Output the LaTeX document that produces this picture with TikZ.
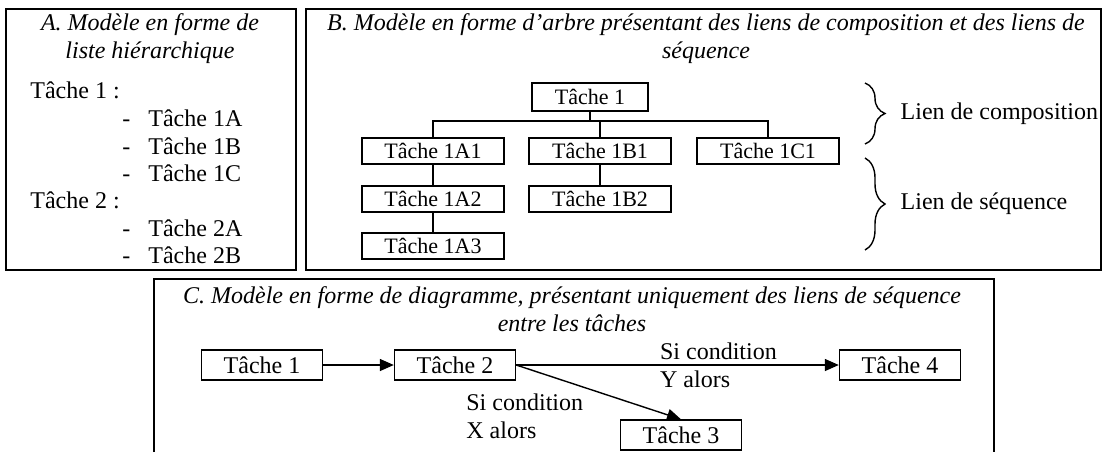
\documentclass[tikz,border=0pt]{standalone}
\usepackage{fontspec}
\setmainfont{Liberation Serif}
\usetikzlibrary{positioning, arrows.meta, decorations.pathreplacing}

\tikzset{
    cadre/.style={line width=0.8pt},
    titre/.style={align=center, inner sep=0pt, font=\fontsize{12}{14}\selectfont\itshape},
    texte/.style={align=left, inner sep=0pt, font=\fontsize{12}{14}\selectfont},
    tache/.style={draw, line width=0.7pt, inner sep=0pt, minimum width=71pt, minimum height=13pt, font=\fontsize{11}{13}\selectfont},
    etape/.style={draw, line width=0.7pt, inner sep=0pt, minimum width=60.5pt, minimum height=15pt, font=\fontsize{12}{14}\selectfont},
    fleche/.style={line width=0.7pt, -{Triangle[length=7pt, width=6pt]}},
    accolade/.style={decorate, decoration={brace, amplitude=10pt}, line width=0.7pt}
}

\begin{document}
\begin{tikzpicture}[x=0.5pt, y=-0.5pt]
        \useasboundingbox (0,0) rectangle (1106,452);

        % A : liste
        \draw[cadre] (6,9) rectangle (296,270);
        \node[titre] at (150,39) (titreA) {A. Modèle en forme de\\liste hiérarchique};
        \node[texte, anchor=west] at (30,90) (l1) {Tâche 1 :};
        \node[texte, anchor=west] at (122,118) (l1a) {-\hspace{9pt}Tâche 1A};
        \node[texte, anchor=west] at (122,146) (l1b) {-\hspace{9pt}Tâche 1B};
        \node[texte, anchor=west] at (122,173) (l1c) {-\hspace{9pt}Tâche 1C};
        \node[texte, anchor=west] at (30,200) (l2) {Tâche 2 :};
        \node[texte, anchor=west] at (122,228) (l2a) {-\hspace{9pt}Tâche 2A};
        \node[texte, anchor=west] at (122,255) (l2b) {-\hspace{9pt}Tâche 2B};

        % B : arbre
        \draw[cadre] (306,9) rectangle (1101,270);
        \node[titre] at (706,39) (titreB) {B. Modèle en forme d’arbre présentant des liens de composition et des liens de\\séquence};
        \node[tache, minimum width=58pt, minimum height=14pt] at (590,97) (t1) {Tâche 1};
        \node[tache] at (433,151) (t1a1) {Tâche 1A1};
        \node[tache] at (600,151) (t1b1) {Tâche 1B1};
        \node[tache] at (768,151) (t1c1) {Tâche 1C1};
        \node[tache] at (433,199) (t1a2) {Tâche 1A2};
        \node[tache] at (600,199) (t1b2) {Tâche 1B2};
        \node[tache] at (433,246) (t1a3) {Tâche 1A3};
        \coordinate (bus) at (0,121);

        \draw[line width=0.7pt] (t1.south) -- (t1.south |- bus)
            (t1a1.north) -- (t1a1.north |- bus) -- (t1c1.north |- bus) -- (t1c1.north)
            (t1b1.north) -- (t1b1.north |- bus)
            (t1a1) -- (t1a2)
            (t1a2) -- (t1a3)
            (t1b1) -- (t1b2);

        \coordinate (acc1h) at (865,83);
        \coordinate (acc1b) at (865,144);
        \coordinate (acc2h) at (865,158);
        \coordinate (acc2b) at (865,250);
        \draw[accolade] (acc1h) -- (acc1b) node[texte, midway, anchor=west, xshift=17.5pt] (compo) {Lien de composition};
        \draw[accolade] (acc2h) -- (acc2b) node[texte, midway, anchor=west, xshift=17.5pt] (seq) {Lien de séquence};

        % C : diagramme
        \draw[cadre] (154,452) -- (154,279) -- (994,279) -- (994,452);
        \node[titre] at (572,309) (titreC) {C. Modèle en forme de diagramme, présentant uniquement des liens de séquence\\entre les tâches};
        \node[etape] at (262,365) (c1) {Tâche 1};
        \node[etape] at (455,365) (c2) {Tâche 2};
        \node[etape] at (900,365) (c4) {Tâche 4};
        \node[etape] at (681,435) (c3) {Tâche 3};

        \draw[fleche] (c1) -- (c2);
        \draw[fleche] (c2) -- (c4) node[texte, pos=0.444, anchor=west] (condY) {Si condition\\Y alors};
        \draw[fleche] (c2.east) -- (c3.north) node[texte, pos=0.41, anchor=north east, yshift=-3pt] (condX) {Si condition\\X alors};
    \end{tikzpicture}
\end{document}
